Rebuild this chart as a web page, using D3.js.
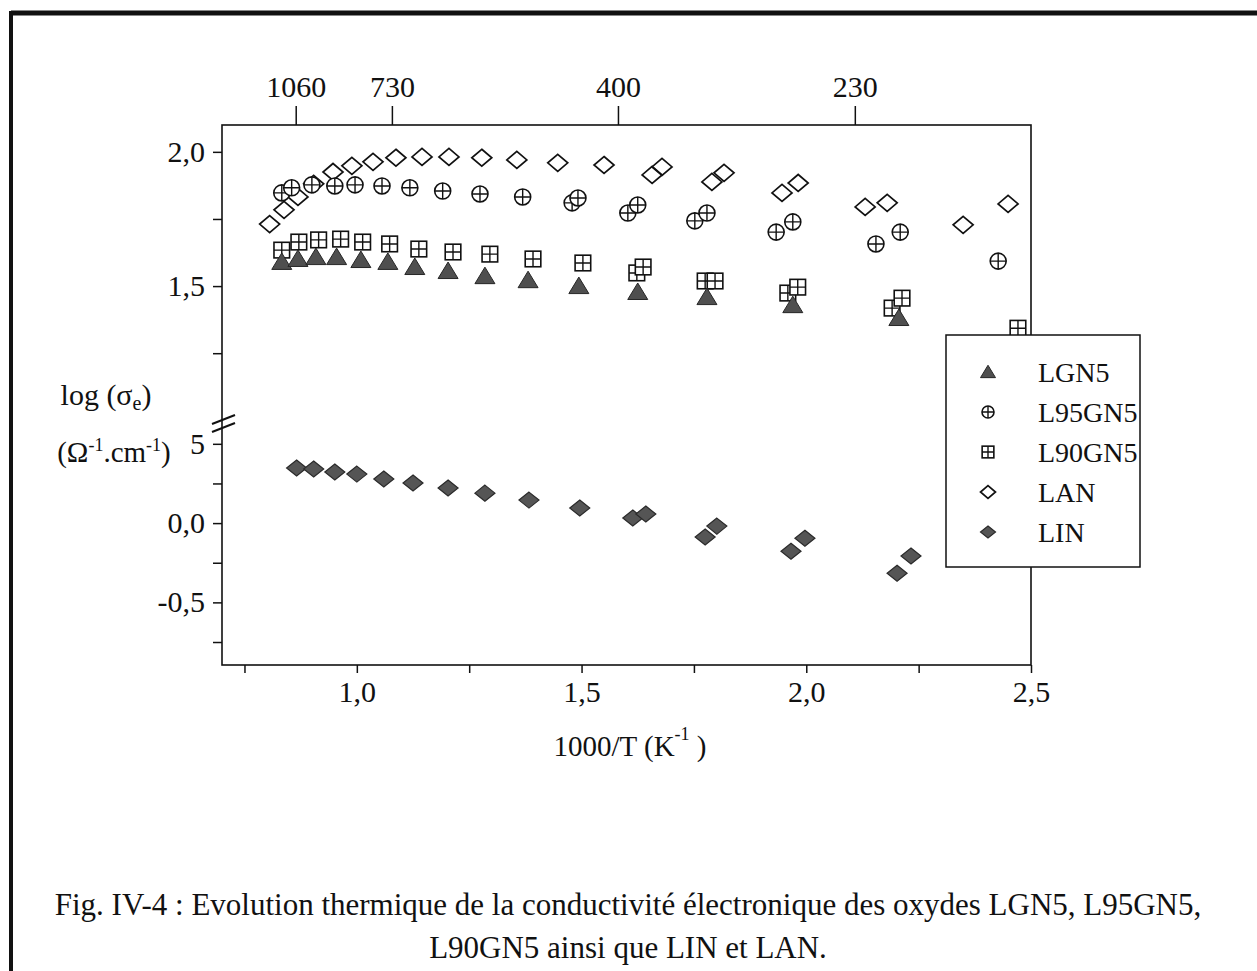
<!DOCTYPE html>
<html>
<head>
<meta charset="utf-8">
<script src="https://cdn.jsdelivr.net/npm/d3@7"></script>
<style>
  body { margin: 0; background: #fff; }
  svg { display: block; font-family: "Liberation Serif", "Times New Roman", serif; }
  .axis text { font-size: 30px; fill: #111; }
  .axis line { stroke: #111; stroke-width: 1.5; }
</style>
</head>
<body>
<svg id="chart" width="1257" height="971"></svg>
<script>
/* ---------------- DATA ---------------- */

let lgn5X = [0.833, 0.869, 0.909, 0.955, 1.009, 1.069, 1.129, 1.203, 1.285, 1.381, 1.494, 1.625, 1.779, 1.970, 2.206]
let lgn5Y = [1.590, 1.601, 1.608, 1.608, 1.597, 1.590, 1.571, 1.556, 1.537, 1.522, 1.500, 1.478, 1.459, 1.429, 1.381]

let l95X = [0.833, 0.855, 0.900, 0.951, 0.996, 1.056, 1.118, 1.191, 1.274, 1.369, 1.479, 1.492, 1.603, 1.625, 1.752, 1.779, 1.933, 1.970, 2.155, 2.209, 2.427]
let l95Y = [1.847, 1.866, 1.877, 1.873, 1.877, 1.873, 1.866, 1.854, 1.843, 1.832, 1.810, 1.828, 1.772, 1.802, 1.743, 1.772, 1.701, 1.739, 1.657, 1.701, 1.593]

let l90X = [0.833, 0.871, 0.915, 0.964, 1.013, 1.073, 1.138, 1.214, 1.296, 1.392, 1.503, 1.623, 1.637, 1.775, 1.797, 1.959, 1.981, 2.191, 2.213, 2.471]
let l90Y = [1.634, 1.664, 1.672, 1.675, 1.664, 1.657, 1.638, 1.627, 1.619, 1.601, 1.586, 1.549, 1.571, 1.519, 1.519, 1.474, 1.496, 1.418, 1.455, 1.343]

let lanX = [0.806, 0.838, 0.869, 0.904, 0.947, 0.989, 1.036, 1.087, 1.145, 1.205, 1.278, 1.356, 1.447, 1.550, 1.657, 1.679, 1.790, 1.817, 1.946, 1.982, 2.131, 2.180, 2.349, 2.449]
let lanY = [1.731, 1.784, 1.832, 1.881, 1.925, 1.948, 1.963, 1.978, 1.981, 1.981, 1.978, 1.970, 1.959, 1.951, 1.914, 1.944, 1.888, 1.922, 1.847, 1.884, 1.795, 1.810, 1.728, 1.806]

// LIN sits on the lower segment of the broken axis
let linX = [0.866, 0.904, 0.951, 1.000, 1.060, 1.125, 1.203, 1.285, 1.383, 1.496, 1.614, 1.643, 1.775, 1.801, 1.966, 1.997, 2.202, 2.233]
let linY = [0.347, 0.341, 0.322, 0.309, 0.278, 0.253, 0.221, 0.189, 0.145, 0.095, 0.032, 0.057, -0.088, -0.019, -0.177, -0.095, -0.316, -0.208]

let xTicks = [0.75, 1.0, 1.25, 1.5, 1.75, 2.0, 2.25, 2.5]
let xTickLabels = ["", "1,0", "", "1,5", "", "2,0", "", "2,5"]

let topTicks = [0.864, 1.078, 1.581, 2.108]
let topTickLabels = ["1060", "730", "400", "230"]

let yUpperTicks = [1.25, 1.5, 1.75, 2.0]
let yUpperLabels = ["", "1,5", "", "2,0"]
let yLowerTicks = [0.5, 0.25, 0.0, -0.25, -0.5, -0.75]
let yLowerLabels = ["5", "", "0,0", "", "-0,5", ""]

let legendNames = ["LGN5", "L95GN5", "L90GN5", "LAN", "LIN"]

/* ---------------- SETUP ---------------- */

let svg = d3.select('#chart')

let plotL = 222, plotR = 1031, plotT = 125, plotB = 665, breakY = 423

let x = d3.scaleLinear().domain([0.7, 2.5]).range([plotL, plotR])
let yUp = d3.scaleLinear().domain([0.99, 2.1]).range([breakY, plotT])
let yLow = d3.scaleLinear().domain([0.625, -0.895]).range([breakY + 1, plotB])

// outer page frame (scanned figure border)
svg.append("line").attr("x1", 11).attr("y1", 13).attr("x2", 1257).attr("y2", 13)
    .attr("stroke", "#111").attr("stroke-width", 5)
svg.append("line").attr("x1", 11).attr("y1", 11).attr("x2", 11).attr("y2", 971)
    .attr("stroke", "#111").attr("stroke-width", 4)

/* ---------------- AXES ---------------- */

function styleAxis(g) {
    g.attr("class", "axis")
    g.select(".domain").remove()
    g.attr("font-family", null).attr("font-size", null)
}

svg.append("g")
    .attr("transform", "translate(0," + plotB + ")")
    .call(d3.axisBottom(x).tickValues(xTicks).tickFormat(function (d, i) { return xTickLabels[i] })
        .tickSize(8).tickPadding(8))
    .call(styleAxis)

svg.append("g")
    .attr("transform", "translate(0," + plotT + ")")
    .call(d3.axisTop(x).tickValues(topTicks).tickFormat(function (d, i) { return topTickLabels[i] })
        .tickSize(19).tickPadding(9))
    .call(styleAxis)

svg.append("g")
    .attr("transform", "translate(" + plotL + ",0)")
    .call(d3.axisLeft(yUp).tickValues(yUpperTicks).tickFormat(function (d, i) { return yUpperLabels[i] })
        .tickSize(9).tickPadding(8))
    .call(styleAxis)

svg.append("g")
    .attr("transform", "translate(" + plotL + ",0)")
    .call(d3.axisLeft(yLow).tickValues(yLowerTicks).tickFormat(function (d, i) { return yLowerLabels[i] })
        .tickSize(9).tickPadding(8))
    .call(styleAxis)

// plot frame
svg.append("rect")
    .attr("x", plotL).attr("y", plotT)
    .attr("width", plotR - plotL).attr("height", plotB - plotT)
    .attr("fill", "none").attr("stroke", "#111").attr("stroke-width", 1.6)

// axis break marks
let brk = svg.append("g").attr("stroke", "#111").attr("stroke-width", 2)
brk.append("line").attr("x1", plotL - 10).attr("y1", breakY + 1).attr("x2", plotL + 13).attr("y2", breakY - 8)
brk.append("line").attr("x1", plotL - 10).attr("y1", breakY + 9).attr("x2", plotL + 13).attr("y2", breakY)

/* ---------------- MARKERS ---------------- */

function drawMarker(g, type, cx, cy, s) {
    let m = g.append("g").attr("transform", "translate(" + cx + "," + cy + ")")
    if (type === "tri") {
        m.append("path")
            .attr("d", "M0," + (-0.9 * s) + "L" + s + "," + (0.75 * s) + "L" + (-s) + "," + (0.75 * s) + "Z")
            .attr("fill", "#4f4f4f").attr("stroke", "#262626").attr("stroke-width", 1)
    } else if (type === "cplus") {
        let r = s * 0.8
        m.append("circle").attr("r", r).attr("fill", "#fff").attr("stroke", "#111").attr("stroke-width", 1.6)
        m.append("path").attr("d", "M" + (-r) + ",0H" + r + "M0," + (-r) + "V" + r)
            .attr("stroke", "#111").attr("stroke-width", 1.4)
    } else if (type === "sgrid") {
        let h = s * 0.78
        m.append("rect").attr("x", -h).attr("y", -h).attr("width", 2 * h).attr("height", 2 * h)
            .attr("fill", "#fff").attr("stroke", "#111").attr("stroke-width", 1.6)
        m.append("path").attr("d", "M" + (-h) + ",0H" + h + "M0," + (-h) + "V" + h)
            .attr("stroke", "#111").attr("stroke-width", 1.4)
    } else if (type === "dopen") {
        m.append("path")
            .attr("d", "M0," + (-0.85 * s) + "L" + s + ",0L0," + (0.85 * s) + "L" + (-s) + ",0Z")
            .attr("fill", "none").attr("stroke", "#111").attr("stroke-width", 1.7)
    } else {
        m.append("path")
            .attr("d", "M0," + (-0.8 * s) + "L" + s + ",0L0," + (0.8 * s) + "L" + (-s) + ",0Z")
            .attr("fill", "#555").attr("stroke", "#2a2a2a").attr("stroke-width", 1.2)
    }
}

let series = [
    { xs: lanX, ys: lanY, type: "dopen", y: yUp },
    { xs: l95X, ys: l95Y, type: "cplus", y: yUp },
    { xs: l90X, ys: l90Y, type: "sgrid", y: yUp },
    { xs: lgn5X, ys: lgn5Y, type: "tri", y: yUp },
    { xs: linX, ys: linY, type: "dfill", y: yLow }
]

let pts = svg.append("g")
series.forEach(function (s) {
    s.xs.forEach(function (v, i) {
        drawMarker(pts, s.type, x(v), s.y(s.ys[i]), 10)
    })
})

/* ---------------- LEGEND ---------------- */

let legend = svg.append("g")
legend.append("rect")
    .attr("x", 946).attr("y", 335).attr("width", 194).attr("height", 232)
    .attr("fill", "#fff").attr("stroke", "#111").attr("stroke-width", 1.5)

let legendTypes = ["tri", "cplus", "sgrid", "dopen", "dfill"]
legendNames.forEach(function (name, i) {
    let cy = 372 + i * 40
    drawMarker(legend, legendTypes[i], 988, cy, 7.5)
    legend.append("text")
        .attr("x", 1038).attr("y", cy + 10)
        .attr("font-size", 28).attr("fill", "#111")
        .text(name)
})

/* ---------------- TITLES ---------------- */

let yt1 = svg.append("text").attr("x", 106).attr("y", 405).attr("text-anchor", "middle")
    .attr("font-size", 30).attr("fill", "#111")
yt1.append("tspan").text("log (σ")
yt1.append("tspan").attr("font-size", 20).attr("dy", 5).text("e")
yt1.append("tspan").attr("dy", -5).text(")")

let yt2 = svg.append("text").attr("x", 114).attr("y", 462).attr("text-anchor", "middle")
    .attr("font-size", 29).attr("fill", "#111")
yt2.append("tspan").text("(Ω")
yt2.append("tspan").attr("font-size", 18).attr("dy", -11).text("-1")
yt2.append("tspan").attr("dy", 11).text(".cm")
yt2.append("tspan").attr("font-size", 18).attr("dy", -11).text("-1")
yt2.append("tspan").attr("dy", 11).text(")")

let xt = svg.append("text").attr("x", 630).attr("y", 756).attr("text-anchor", "middle")
    .attr("font-size", 29).attr("fill", "#111")
xt.append("tspan").text("1000/T (K")
xt.append("tspan").attr("font-size", 18).attr("dy", -16).text("-1")
xt.append("tspan").attr("dy", 16).text("  )")

// caption
svg.append("text").attr("x", 628).attr("y", 915).attr("text-anchor", "middle")
    .attr("font-size", 31).attr("fill", "#111")
    .text("Fig. IV-4 : Evolution thermique de la conductivité électronique des oxydes LGN5, L95GN5,")
svg.append("text").attr("x", 628).attr("y", 958).attr("text-anchor", "middle")
    .attr("font-size", 31).attr("fill", "#111")
    .text("L90GN5 ainsi que LIN et LAN.")
</script>
</body>
</html>
